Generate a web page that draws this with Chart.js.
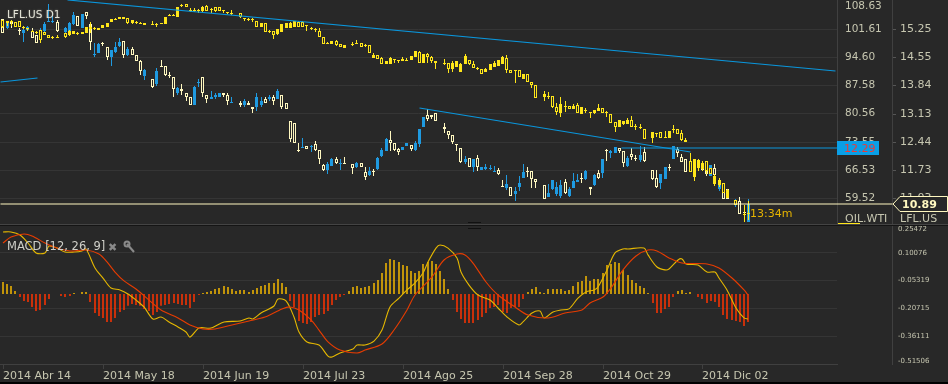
<!DOCTYPE html>
<html>
<head>
<meta charset="utf-8">
<title>LFL.US D1</title>
<script src="https://cdn.jsdelivr.net/npm/chart.js@4/dist/chart.umd.js"></script>
<style>
html, body { margin: 0; padding: 0; background: #282828; overflow: hidden; }
canvas { position: absolute; left: 0; }
.bar { position: absolute; }
</style>
</head>
<body>
<canvas id="priceChart" width="948" height="226" style="top:0"></canvas>
<canvas id="macdChart" width="948" height="159" style="top:225px"></canvas>
<div class="bar" style="left:0;top:224px;width:948px;height:1px;background:#444"></div>
<div class="bar" style="left:0;top:225px;width:948px;height:1px;background:#151515"></div>
<div class="bar" style="left:468px;top:222px;width:13px;height:1px;background:#111"></div>
<div class="bar" style="left:468px;top:228px;width:13px;height:1px;background:#111"></div>
<div class="bar" style="left:0;top:382px;width:948px;height:2px;background:#000"></div>
<script>
// LFL.US candles, right hand axis
const lflOpen = [
15.49,15.26,15.41,15.41,15.21,15.14,15.21,15.19,15.09,14.99,
15.19,15.41,15.41,15.41,null,15.16,15.19,15.36,15.56,15.26,
15.66,15.36,14.59,14.64,14.89,14.79,14.54,14.66,14.81,14.94,
14.59,14.74,14.59,14.44,14.06,null,13.99,13.86,14.31,14.31,
14.09,14.04,13.64,13.74,13.66,13.54,13.34,13.89,14.04,13.61,
13.51,13.54,13.56,13.64,13.59,13.39,null,13.41,13.34,13.39,
13.31,13.29,13.36,13.49,13.49,13.54,13.49,13.59,13.41,12.96,
12.89,12.24,12.29,12.34,12.31,12.39,12.24,11.86,11.74,11.84,
12.01,11.89,11.91,null,11.89,11.81,11.91,11.69,11.61,11.71,
11.76,12.09,12.21,12.49,12.41,12.26,12.24,12.34,12.36,12.24,
12.39,12.79,13.09,13.09,13.14,null,12.79,12.69,12.61,12.39,
12.29,11.94,12.04,11.81,12.04,11.74,11.76,11.76,11.69,11.74,
11.34,11.29,11.31,11.14,11.31,11.54,11.71,11.71,11.51,null,
11.36,11.06,11.26,11.14,11.09,11.44,11.09,11.29,11.44,11.54,
11.51,11.31,11.36,11.66,11.66,12.24,12.16,12.16,12.29,12.21,
11.84,12.14,12.04,11.99,12.19,null,11.74,11.54,11.41,11.51,
11.81,12.01,12.26,12.06,12.01,11.96,11.84,11.96,11.79,11.81,
11.59,11.79,11.26,11.29,11.26,null,10.86,10.96,10.69,10.44];
const lflClose = [
15.14,15.41,15.36,15.29,15.19,15.21,15.29,15.01,14.89,15.16,
15.36,15.44,15.44,15.19,null,15.26,15.39,15.59,15.31,15.61,
15.56,14.91,14.61,14.86,14.86,14.54,14.71,14.79,14.91,14.59,
14.74,14.59,14.44,14.19,14.21,null,13.79,14.19,14.29,14.09,
14.06,13.74,13.76,13.71,13.56,13.36,13.79,13.91,13.66,13.51,
13.56,13.61,13.64,13.61,13.44,13.41,null,13.34,13.46,13.36,
13.24,13.54,13.46,13.41,13.54,13.44,13.69,13.29,13.24,12.51,
12.41,12.21,12.31,12.26,12.34,12.24,12.01,11.74,11.89,12.01,
11.91,11.91,11.89,null,11.79,11.91,11.81,11.56,11.71,11.69,
12.04,12.24,12.51,12.41,12.24,12.19,12.31,12.41,12.26,12.41,
12.74,13.04,13.01,13.06,12.96,null,12.76,12.61,12.44,12.36,
11.94,12.01,11.81,12.01,11.81,11.81,11.81,11.79,11.71,11.64,
11.31,11.39,11.09,11.21,11.41,11.69,11.69,11.51,11.44,null,
11.01,11.16,11.49,11.31,11.36,11.16,11.26,11.46,11.49,11.51,
11.71,11.26,11.61,11.54,12.01,12.21,12.21,12.31,12.21,11.91,
12.04,12.06,12.01,12.11,11.96,null,11.51,11.31,11.64,11.81,
11.79,12.34,12.16,11.94,11.69,11.69,11.71,11.79,11.74,11.64,
11.86,11.61,11.41,11.01,11.01,null,10.99,10.64,10.66,10.89];
const lflHigh = [
15.49,15.44,15.41,15.41,15.26,15.29,15.31,15.26,15.09,15.26,
15.41,15.86,15.66,15.46,null,15.29,15.41,15.66,15.56,15.61,
15.66,15.41,14.89,14.89,14.91,14.79,14.71,14.91,15.01,14.94,
14.79,14.79,14.59,14.46,14.24,null,13.99,14.26,14.46,14.31,
14.16,14.04,13.79,13.86,13.66,13.54,13.81,13.99,14.04,13.61,
13.71,13.66,13.66,13.64,13.64,13.54,null,13.44,13.51,13.44,
13.31,13.64,13.56,13.54,13.59,13.59,13.74,13.59,13.41,12.96,
12.89,12.41,12.54,12.34,12.36,12.46,12.24,11.89,11.94,12.04,
12.06,12.01,12.06,null,11.89,11.94,11.91,11.81,11.81,11.76,
12.06,12.29,12.54,12.71,12.41,12.29,12.31,12.41,12.36,12.46,
12.76,13.06,13.26,13.09,13.14,null,12.91,12.71,12.61,12.39,
12.29,12.09,12.04,12.01,12.11,11.81,11.89,11.86,11.84,11.79,
11.49,11.61,11.31,11.31,11.59,11.89,11.81,11.71,11.51,null,
11.36,11.39,11.49,11.44,11.49,11.51,11.31,11.66,11.64,11.66,
11.74,11.31,11.64,11.74,12.01,12.26,12.24,12.31,12.29,12.21,
12.09,12.29,12.11,12.34,12.31,null,11.74,11.74,11.64,11.81,
11.89,12.34,12.31,12.14,12.01,12.16,11.89,12.01,11.96,11.86,
11.86,11.89,11.46,11.41,11.26,null,11.01,11.06,10.86,11.01];
const lflLow = [
15.14,15.24,15.26,15.29,15.09,14.91,15.19,15.01,14.89,14.89,
15.16,15.41,15.39,15.16,null,15.14,15.09,15.34,15.31,15.26,
15.49,14.71,14.54,14.64,14.81,14.46,14.31,14.64,14.79,14.51,
14.56,14.59,14.44,14.09,13.96,null,13.76,13.81,14.29,14.06,
14.01,13.56,13.61,13.59,13.46,13.36,13.34,13.79,13.56,13.41,
13.51,13.51,13.54,13.56,13.36,13.39,null,13.31,13.29,13.34,
13.14,13.19,13.31,13.39,13.46,13.36,13.49,13.26,13.24,12.44,
12.41,12.19,12.29,12.26,12.19,12.21,11.89,11.71,11.64,11.84,
11.89,11.74,11.89,null,11.64,11.79,11.81,11.49,11.59,11.59,
11.74,12.06,12.21,12.21,12.21,12.11,12.24,12.34,12.21,12.21,
12.31,12.79,12.94,12.99,12.96,null,12.66,12.51,12.39,12.21,
11.91,11.89,11.81,11.69,11.71,11.74,11.74,11.74,11.69,11.61,
11.31,11.24,11.09,10.96,11.21,11.54,11.56,11.29,11.29,null,
11.01,11.06,11.24,11.09,11.04,11.14,11.06,11.29,11.44,11.41,
11.49,11.11,11.34,11.51,11.54,11.96,12.04,12.16,12.16,11.81,
11.81,11.99,11.96,11.94,11.94,null,11.49,11.29,11.26,11.51,
11.71,12.01,12.06,11.94,11.69,11.69,11.69,11.76,11.71,11.59,
11.59,11.59,11.21,11.01,11.01,null,10.81,10.64,10.46,10.44];

// OIL.WTI candles, left hand axis
const oilOpen = [
103.7,103.45,103.2,103.2,103.45,101.7,101.45,100.7,100.45,101.2,
100.7,99.95,99.2,99.2,null,100.45,99.95,100.2,100.2,100.2,
100.45,101.45,101.45,101.2,101.7,101.95,103.2,103.7,103.95,103.95,
104.2,102.95,102.95,102.95,102.45,null,102.45,102.45,102.7,102.7,
104.7,104.7,104.45,107.2,107.7,105.95,105.95,105.95,105.95,107.2,
106.45,106.95,106.95,105.95,105.45,105.2,null,105.45,103.95,103.7,
103.7,103.45,101.95,102.95,100.7,100.95,100.2,100.7,101.7,101.7,
101.95,103.2,103.2,102.2,101.45,101.2,100.95,99.45,97.7,97.7,
98.45,97.7,96.7,null,97.45,97.7,97.95,97.2,97.45,94.2,
94.95,94.2,92.95,92.95,93.7,93.45,93.45,93.45,93.7,94.45,
95.7,93.2,95.2,94.45,93.45,null,92.95,93.2,91.7,92.2,
90.95,92.95,93.7,92.95,91.7,91.7,90.95,91.45,92.2,92.45,
92.95,94.2,91.45,91.45,91.45,89.2,90.45,88.45,87.7,null,
84.7,84.7,84.95,82.2,80.7,82.2,82.45,81.7,82.7,80.45,
81.2,80.95,80.7,81.2,81.95,80.7,80.45,78.45,77.2,77.95,
77.95,78.95,77.2,76.95,76.7,null,74.45,75.45,75.95,74.7,
74.45,76.45,76.7,75.7,73.45,68.7,64.7,66.95,66.7,68.7,
66.95,62.95,62.7,63.2,59.45,null,58.95,null,55.45,55.7];
const oilClose = [
101.95,102.95,103.45,101.95,101.95,101.95,101.7,100.95,100.7,98.7,
99.95,99.2,99.45,99.45,null,99.45,100.95,100.95,100.45,100.7,
101.95,101.95,101.7,101.7,102.45,102.95,103.95,103.95,104.45,104.45,
102.95,103.7,103.2,102.7,102.95,null,102.7,102.7,102.95,104.45,
104.95,104.95,106.95,107.45,106.95,106.2,106.2,106.2,106.95,105.95,
106.2,105.95,105.95,106.2,105.7,105.45,null,104.45,104.2,103.95,
103.95,101.95,102.95,100.7,100.95,99.95,101.45,102.7,102.95,102.95,
103.45,101.95,101.95,102.45,101.7,101.45,99.45,97.7,97.95,98.45,
97.45,96.95,97.45,null,97.7,97.95,96.95,97.45,95.45,94.95,
93.95,92.95,93.45,94.2,93.95,93.7,93.95,93.7,94.7,95.95,
93.2,95.2,94.45,93.45,93.2,null,93.2,91.7,93.2,93.45,
92.95,94.7,92.95,91.95,91.95,90.45,91.7,92.95,93.2,93.7,
94.45,91.45,90.7,91.2,89.7,90.45,88.45,87.7,84.45,null,
85.45,84.95,82.2,80.95,82.95,82.45,81.7,82.45,80.7,82.2,
81.45,80.7,81.45,81.95,80.7,80.95,78.2,77.2,78.95,78.7,
78.95,77.2,77.45,77.2,74.2,null,75.95,75.7,74.45,74.45,
76.2,76.7,75.45,73.95,73.95,65.95,69.2,68.95,68.2,66.2,
65.45,64.95,63.95,60.7,61.45,null,57.7,null,55.7,55.95];
const oilHigh = [
103.7,103.45,103.7,103.2,103.45,102.2,101.7,101.2,100.95,101.2,
100.7,99.95,99.7,99.95,null,100.45,101.2,100.95,100.7,100.7,
101.95,103.2,101.95,101.7,102.45,102.95,103.95,104.2,104.45,104.45,
104.2,103.7,103.45,103.2,102.95,null,103.45,102.95,102.95,104.45,
105.2,105.2,106.95,107.7,107.7,106.7,106.7,106.45,107.2,107.45,
106.7,106.95,106.95,106.2,105.7,106.2,null,105.45,104.2,104.2,
104.2,103.45,102.95,102.95,101.2,100.95,101.45,102.7,102.95,103.2,
103.45,103.45,103.45,102.45,101.95,101.7,101.7,99.45,98.2,98.45,
98.7,97.7,97.45,null,98.2,98.7,97.95,97.7,97.45,95.45,
94.95,94.45,93.45,94.45,93.95,93.7,94.45,94.2,94.7,95.95,
95.95,95.2,95.45,94.7,93.45,null,93.95,93.2,93.45,93.45,
93.2,95.2,93.7,93.45,92.2,91.7,91.95,92.95,93.45,93.7,
94.7,94.95,91.45,91.45,91.45,90.45,90.45,88.45,87.7,null,
86.2,85.95,84.95,83.2,84.7,83.7,82.45,82.95,83.2,82.2,
81.95,80.95,81.45,82.95,81.95,81.2,80.45,78.45,78.95,78.7,
79.45,79.95,77.95,77.95,76.7,null,75.95,75.7,75.95,76.2,
76.2,77.7,76.7,76.45,74.45,70.7,69.2,69.2,68.7,68.7,
66.95,65.45,64.45,63.2,61.7,null,58.95,null,57.7,58.7];
const oilLow = [
101.7,102.2,102.2,101.95,101.95,101.45,100.95,100.7,100.2,97.95,
99.95,99.2,98.95,99.2,null,99.2,99.7,100.2,99.95,100.2,
100.45,100.45,101.2,101.2,101.7,101.95,103.2,103.7,103.95,103.95,
102.7,102.7,102.7,102.7,102.45,null,102.45,101.95,102.7,102.7,
104.7,104.7,104.45,106.95,106.95,105.7,105.7,105.45,105.7,105.95,
105.45,105.7,105.95,105.45,105.2,104.95,null,104.2,103.45,103.45,
103.2,101.95,101.95,100.7,100.45,98.95,99.95,100.7,101.7,101.7,
101.95,101.95,101.95,100.95,101.2,100.7,99.45,97.7,97.7,97.7,
97.2,96.95,96.7,null,97.2,97.7,96.95,96.95,95.45,94.2,
93.95,92.95,92.95,92.95,93.2,93.2,93.45,93.45,93.7,94.45,
93.2,93.2,93.2,93.2,91.7,null,92.7,90.7,90.95,92.2,
90.95,92.95,92.7,91.95,91.45,90.45,90.95,91.45,92.2,92.45,
92.95,90.7,90.7,88.2,89.7,89.2,88.45,86.95,84.45,null,
83.7,84.2,81.95,80.2,79.7,80.95,81.7,81.7,80.7,80.45,
80.7,79.45,80.45,81.2,80.7,79.7,78.2,75.95,77.2,77.7,
77.95,77.2,76.45,76.7,74.2,null,73.2,74.7,74.45,74.45,
74.45,75.7,75.45,73.7,73.45,65.95,63.7,66.2,66.2,65.45,
65.45,62.45,62.2,60.7,59.45,null,57.7,null,53.7,54.2];

// MACD pane
const histValues = [
.066,.055,.044,.017,-.017,-.039,-.044,-.072,-.094,-.089,
-.061,-.028,0,0,-.011,-.017,-.011,.006,0,.011,
.011,-.044,-.105,-.122,-.133,-.155,-.155,-.133,-.1,-.089,
-.066,-.055,-.061,-.066,-.083,-.094,-.116,-.1,-.066,-.061,
-.055,-.05,-.055,-.061,-.061,-.078,-.044,-.006,.006,.011,
.017,.028,.033,.044,.039,.028,.017,.022,.022,.011,
.022,.033,.044,.05,.061,.061,.083,.061,.039,-.039,
-.072,-.15,-.161,-.166,-.155,-.127,-.116,-.111,-.094,-.061,
-.033,-.017,-.006,.017,.039,.044,.033,.039,.044,.061,
.078,.116,.172,.194,.188,.177,.161,.155,.127,.116,
.127,.166,.177,.183,.166,.127,.083,.028,-.033,-.1,
-.139,-.161,-.161,-.161,-.144,-.127,-.105,-.078,-.072,-.061,
-.1,-.105,-.078,-.072,-.072,-.028,.011,.028,.039,.011,
.006,.028,.028,.028,.028,.017,.022,.044,.066,.072,
.1,.072,.083,.083,.116,.161,.166,.177,.172,.133,
.105,.078,.061,.044,.033,.006,-.05,-.105,-.105,-.083,
-.072,-.017,.017,.022,.006,.011,0,-.017,-.028,-.05,
-.039,-.044,-.072,-.116,-.139,-.144,-.15,-.155,-.177,-.155];
const macdDays = [0,2,4,6,8,10,11,13,15,17,19,20,22,24,26,28,30,32,34,36,38,40,42,44,45,47,50,53,57,59,60,62,65,66,68,70,71,73,76,78,79,81,84,85,87,89,91,93,95,97,99,101,102,104,105,107,109,110,112,114,117,119,121,124,125,127,129,130,132,134,136,138,140,142,143,145,147,149,150,154,155,157,159,160,162,163,164,167,169,171,172,174,176,178,179];
const macdValues = [.216,.216,.199,.155,.1,.1,.138,.127,.105,.105,.111,.122,.017,-.039,-.094,-.105,-.127,-.161,-.199,-.266,-.255,-.282,-.31,-.338,-.366,-.316,-.316,-.282,-.277,-.26,-.266,-.233,-.194,-.155,-.166,-.255,-.338,-.393,-.41,-.471,-.476,-.454,-.432,-.41,-.41,-.388,-.327,-.199,-.15,-.105,-.066,-.011,.05,.127,.144,.127,.072,-.006,-.078,-.133,-.161,-.205,-.255,-.299,-.282,-.233,-.222,-.26,-.227,-.216,-.21,-.15,-.116,-.105,-.089,.006,.1,.122,.122,.127,.089,.022,.006,.011,.061,.067,.039,.033,-.006,-.006,-.039,-.105,-.205,-.26,-.266];
const signalDays = [0,2,5,7,10,13,16,20,23,25,27,29,32,35,38,42,45,48,51,55,59,63,67,69,71,74,76,78,81,85,87,91,94,97,99,103,106,109,111,113,116,119,123,126,131,135,139,141,144,146,149,152,155,157,160,163,169,172,175,178,179];
const signalValues = [.155,.188,.205,.194,.155,.127,.111,.116,.094,.05,-.006,-.055,-.1,-.161,-.216,-.26,-.299,-.321,-.321,-.299,-.277,-.255,-.21,-.199,-.216,-.271,-.327,-.393,-.438,-.454,-.438,-.404,-.327,-.216,-.133,-.033,.061,.094,.089,.044,-.061,-.133,-.199,-.244,-.26,-.233,-.216,-.177,-.144,-.094,.006,.083,.116,.111,.072,.044,.039,.017,-.039,-.105,-.133];

// axes
const dateDays = [0,24,48,72,96,120,144,168];
const dateLabels = ["2014 Abr 14","2014 May 18","2014 Jun 19","2014 Jul 23","2014 Ago 25","2014 Sep 28","2014 Oct 29","2014 Dic 02"];
const oilTicks = [107.2,101.61,94.6,87.58,80.56,73.55,66.53,59.52];
const oilTickLabels = ["108.63","101.61","94.60","87.58","80.56","73.55","66.53","59.52"];
const lflTicks = [15.25,14.55,13.84,13.13,12.44,11.73,11.03];
const macdTicks = [.2325,.10076,-.05319,-.20715,-.36111,-.4995];
const macdTickLabels = ["0.25472","0.10076","-0.05319","-0.20715","-0.36111","-0.51506"];

// drawn lines, [day, LFL price]
const trendA = [[15.6,15.96],[200,14.19]];
const trendB = [[-0.7,13.92],[8.2,14.03]];
const trendC = [[100.1,13.27],[165,12.19]];
const blueLevel = 12.29;
const lastPrice = 10.89;

const BG = "#282828", GRID = "#353535", AXIS = "#404040", TXT = "#c6c6b0";
const CREAM = "#fff8c0", BLUE = "#1f9ae0", YELLOW = "#ffe61a", LINE = "#0a96dc";
const FONT = "DejaVu Sans";

// keep the thin candles on whole pixels
const LinearBase = Chart.registry.getScale("linear");
class RoundScale extends LinearBase {
    getPixelForValue(v) { return Math.round(super.getPixelForValue(v)); }
}
RoundScale.id = "roundLinear";
RoundScale.defaults = LinearBase.defaults;
class HalfScale extends LinearBase {
    getPixelForValue(v) { return Math.floor(super.getPixelForValue(v)) + 0.5; }
}
HalfScale.id = "halfLinear";
HalfScale.defaults = LinearBase.defaults;
Chart.register(RoundScale, HalfScale);

function pts(pairs) { return pairs.map(p => ({x: p[0], y: p[1]})); }

function wicks(high, low) {
    return high.map((h, i) => ({x: i, y: h === null ? null : [low[i], h]}));
}
function bodies(open, close) {
    return open.map((o, i) => ({x: i, y: o === null ? null : [o, close[i]]}));
}

function candles(name, axis, open, close, high, low, upColor, downColor) {
    const colors = open.map((o, i) => close[i] > o ? upColor : downColor);
    const fills = open.map((o, i) => close[i] > o ? upColor : BG);
    return [{
        type: "bar", label: name, yAxisID: axis,
        data: bodies(open, close),
        barThickness: 3, minBarLength: 1, grouped: false, inflateAmount: 0,
        backgroundColor: fills, borderColor: colors, borderWidth: 1, borderSkipped: false
    }, {
        type: "bar", label: name + " wick", yAxisID: axis,
        data: wicks(high, low),
        barThickness: 1, minBarLength: 1, grouped: false, inflateAmount: 0,
        backgroundColor: colors, borderWidth: 0
    }];
}

function drawnLine(name, data, color, width) {
    return {
        type: "line", label: name, yAxisID: "yLfl", data: data,
        borderColor: color, borderWidth: width, pointRadius: 0, clip: false
    };
}

function fixedWidth(w) {
    return function (s) { s.width = w; s.paddingTop = 0; s.paddingBottom = 0; };
}

const priceOverlay = {
    id: "priceOverlay",
    afterDraw(chart) {
        const c = chart.ctx, y = chart.scales.yLfl;
        c.save();
        c.textBaseline = "middle";

        // flag of the blue level
        const by = y.getPixelForValue(blueLevel);
        c.fillStyle = "#0a9fe6";
        c.fillRect(837, by - 7, 42, 14);
        c.fillStyle = "#e83c3c";
        c.font = "11px " + FONT;
        c.fillText(blueLevel.toFixed(2), 844, by + 1);

        // last price tag
        const py = y.getPixelForValue(lastPrice);
        c.beginPath();
        c.moveTo(893, py);
        c.lineTo(900, py - 7.5);
        c.lineTo(947.5, py - 7.5);
        c.lineTo(947.5, py + 7.5);
        c.lineTo(900, py + 7.5);
        c.closePath();
        c.fillStyle = BG;
        c.fill();
        c.strokeStyle = CREAM;
        c.lineWidth = 1;
        c.stroke();
        c.fillStyle = CREAM;
        c.font = "bold 11px " + FONT;
        c.fillText(lastPrice.toFixed(2), 902, py + 1);

        c.font = "11px " + FONT;
        c.fillStyle = "#e6b400";
        c.fillText("13:34m", 750, 214);

        c.fillStyle = TXT;
        c.fillText("OIL.WTI", 845, 219);
        c.fillText("LFL.US", 900, 219);
        c.fillStyle = YELLOW;
        c.fillRect(838, 223, 22, 1);

        c.font = "10.5px " + FONT;
        c.fillStyle = "#e4e4d8";
        c.shadowColor = "rgba(210,210,190,.5)";
        c.shadowBlur = 2;
        c.fillText("LFL.US D1", 7, 15);
        c.restore();
    }
};

new Chart(document.getElementById("priceChart"), {
    type: "bar",
    data: {
        datasets: [
            drawnLine("last", [{x: -0.7, y: lastPrice}, {x: 213.7, y: lastPrice}], CREAM, 1.2),
            drawnLine("level", [{x: 148.6, y: blueLevel}, {x: 200.3, y: blueLevel}], LINE, 1.2),
            drawnLine("trend a", pts(trendA), LINE, 1.2),
            drawnLine("trend b", pts(trendB), LINE, 1.2),
            drawnLine("trend c", pts(trendC), LINE, 1.2),
            ...candles("OIL.WTI", "yOil", oilOpen, oilClose, oilHigh, oilLow, YELLOW, YELLOW),
            ...candles("LFL.US", "yLfl", lflOpen, lflClose, lflHigh, lflLow, BLUE, CREAM)
        ]
    },
    options: {
        responsive: false,
        animation: false,
        devicePixelRatio: 1,
        layout: {padding: 0},
        plugins: {legend: {display: false}, tooltip: {enabled: false}},
        scales: {
            x: {type: "halfLinear", display: false, offset: false, min: -0.7, max: 200.3},
            yOil: {
                type: "roundLinear", position: "right", weight: 0,
                min: 52.6, max: 108.72,
                afterBuildTicks: s => { s.ticks = oilTicks.map(v => ({value: v})); },
                afterFit: fixedWidth(55),
                border: {display: true, color: AXIS},
                grid: {color: c => c.index === 0 ? "transparent" : GRID, drawTicks: false},
                ticks: {
                    autoSkip: false, padding: 8, color: TXT,
                    font: {family: FONT, size: 10.5},
                    callback: (v, i) => oilTickLabels[i]
                }
            },
            yLfl: {
                type: "roundLinear", position: "right", weight: 1,
                min: 10.3375, max: 15.9625,
                afterBuildTicks: s => { s.ticks = lflTicks.map(v => ({value: v})); },
                afterFit: fixedWidth(56),
                border: {display: true, color: AXIS},
                grid: {drawOnChartArea: false, tickLength: 4, tickColor: "#555"},
                ticks: {
                    autoSkip: false, padding: 4, color: TXT,
                    font: {family: FONT, size: 11},
                    callback: v => v.toFixed(2)
                }
            }
        }
    },
    plugins: [priceOverlay]
});

const macdOverlay = {
    id: "macdOverlay",
    afterDraw(chart) {
        const c = chart.ctx;
        c.save();
        c.textBaseline = "middle";
        c.fillStyle = "#cfcfc8";
        c.font = "11.5px " + FONT;
        c.fillText("MACD [12, 26, 9]", 7, 22);
        c.fillStyle = "#8a8a8a";
        c.font = "11px " + FONT;
        c.fillText("\u2716", 108, 23);
        // wrench
        c.strokeStyle = "#8a8a8a";
        c.lineWidth = 2;
        c.beginPath();
        c.moveTo(127, 19);
        c.lineTo(134, 27);
        c.stroke();
        c.beginPath();
        c.arc(127, 19, 2.5, 0, Math.PI * 2);
        c.stroke();
        c.restore();
    }
};

new Chart(document.getElementById("macdChart"), {
    type: "bar",
    data: {
        datasets: [
            {
                type: "line", label: "Signal", yAxisID: "yMacd",
                data: signalDays.map((d, i) => ({x: d, y: signalValues[i]})),
                borderColor: "#e83c00", borderWidth: 1.1, pointRadius: 0, tension: 0.3
            },
            {
                type: "line", label: "MACD", yAxisID: "yMacd",
                data: macdDays.map((d, i) => ({x: d, y: macdValues[i]})),
                borderColor: "#e6b800", borderWidth: 1.1, pointRadius: 0, tension: 0.3
            },
            {
                type: "bar", label: "Histogram", yAxisID: "yHist",
                data: histValues.map((v, i) => ({x: i, y: v})),
                barThickness: 1.5, grouped: false, inflateAmount: 0,
                backgroundColor: histValues.map(v => v < 0 ? "#ff3300" : "#f5b800"),
                borderWidth: 0
            }
        ]
    },
    options: {
        responsive: false,
        animation: false,
        devicePixelRatio: 1,
        layout: {padding: 0},
        plugins: {legend: {display: false}, tooltip: {enabled: false}},
        scales: {
            x: {
                type: "roundLinear", position: "bottom", offset: false, min: -0.7, max: 200.3,
                afterBuildTicks: s => { s.ticks = dateDays.map(v => ({value: v})); },
                afterFit: s => { s.height = 20; s.paddingLeft = 0; s.paddingRight = 0; },
                border: {display: true, color: AXIS},
                grid: {offset: false, drawOnChartArea: false, tickLength: 5, tickColor: AXIS},
                ticks: {
                    autoSkip: false, maxRotation: 0, align: "start", padding: 1,
                    color: TXT, font: {family: FONT, size: 11},
                    callback: (v, i) => dateLabels[i]
                }
            },
            yHist: {
                position: "right", weight: 0, min: -0.388, max: 0.382,
                afterFit: fixedWidth(55),
                border: {display: false},
                grid: {display: false},
                ticks: {display: false}
            },
            yMacd: {
                position: "right", weight: 1, min: -0.51506, max: 0.25472,
                afterBuildTicks: s => { s.ticks = macdTicks.map(v => ({value: v})); },
                afterFit: fixedWidth(56),
                border: {display: true, color: AXIS},
                grid: {
                    color: c => (c.index === 0 || c.index === 5) ? "transparent" : GRID,
                    drawTicks: false
                },
                ticks: {
                    autoSkip: false, padding: 6, color: TXT,
                    font: {family: FONT, size: 7},
                    callback: (v, i) => macdTickLabels[i]
                }
            }
        }
    },
    plugins: [macdOverlay]
});
</script>
</body>
</html>
